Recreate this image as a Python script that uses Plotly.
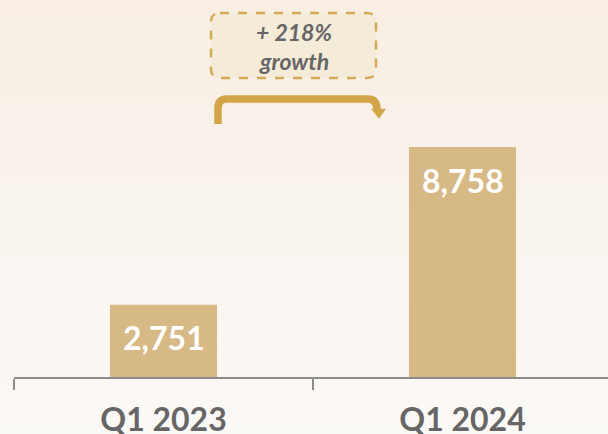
import base64
import plotly.graph_objects as go

categories = ["Q1 2023", "Q1 2024"]
values = [2751, 8758]
value_labels = ["2,751", "8,758"]
growth_text = ["+ 218%", "growth"]

W, H = 608, 434
L, R, T, B = 14, 0, 0, 57
pw, ph = W - L - R, H - T - B
band = 299  # px per category

def px(x):
    return (x - L) / pw

def py(y):
    return 1 - (y - T) / ph

bar_color = "#d6b985"
gold = "#d2a548"
grey = "#666666"

svg = f'''<svg xmlns="http://www.w3.org/2000/svg" width="{W}" height="{H}" preserveAspectRatio="none">
<defs><linearGradient id="g" x1="0" y1="0" x2="0" y2="1">
<stop offset="0" stop-color="#f8eee3"/><stop offset="0.5" stop-color="#f9f4ee"/><stop offset="1" stop-color="#fbf9f6"/>
</linearGradient></defs><rect width="{W}" height="{H}" fill="url(#g)"/></svg>'''
bg_src = "data:image/svg+xml;base64," + base64.b64encode(svg.encode()).decode()

fig = go.Figure(go.Bar(
    x=categories, y=values, marker=dict(color=bar_color, line=dict(width=0)),
    width=0.358, hoverinfo="skip",
))

# value labels inside bars
for c, v, t in zip(categories, values, value_labels):
    fig.add_annotation(x=c, y=v, text=t, showarrow=False, yanchor="middle", yshift=-33,
                       font=dict(family="Lato", size=32, color="white", weight="bold"))

# growth callout box (rounded, dashed)
x0, x1, y0, y1, r = 211, 376, 13, 78, 9
path = (f"M {px(x0+r)},{py(y0)} L {px(x1-r)},{py(y0)} Q {px(x1)},{py(y0)} {px(x1)},{py(y0+r)} "
        f"L {px(x1)},{py(y1-r)} Q {px(x1)},{py(y1)} {px(x1-r)},{py(y1)} "
        f"L {px(x0+r)},{py(y1)} Q {px(x0)},{py(y1)} {px(x0)},{py(y1-r)} "
        f"L {px(x0)},{py(y0+r)} Q {px(x0)},{py(y0)} {px(x0+r)},{py(y0)} Z")
fig.add_shape(type="path", path=path, xref="paper", yref="paper",
              fillcolor="#f5ebd9", line=dict(color="#d4aa55", width=2.5, dash="dash"))
for txt, yy in zip(growth_text, [32, 61]):
    fig.add_annotation(x=px(293.5), y=py(yy), xref="paper", yref="paper", text=txt,
                       xanchor="center", yanchor="middle", showarrow=False,
                       font=dict(family="Lato", size=23, color=grey, weight="bold", style="italic"))

# bent arrow
ax0, ay0, ay1, ax1, ay2, rr = 218, 124, 99, 377, 110, 9
apath = (f"M {px(ax0)},{py(ay0)} L {px(ax0)},{py(ay1+rr)} Q {px(ax0)},{py(ay1)} {px(ax0+rr)},{py(ay1)} "
         f"L {px(ax1-rr)},{py(ay1)} Q {px(ax1)},{py(ay1)} {px(ax1)},{py(ay2)}")
fig.add_shape(type="path", path=apath, xref="paper", yref="paper",
              line=dict(color=gold, width=7.5))
hpath = f"M {px(371.5)},{py(109)} L {px(385.5)},{py(109)} L {px(379)},{py(118.5)} Z"
fig.add_shape(type="path", path=hpath, xref="paper", yref="paper",
              fillcolor=gold, line=dict(color=gold, width=0.5))

ymax = 8758 / (377 - 147) * ph
fig.update_layout(
    width=W, height=H, margin=dict(l=L, r=R, t=T, b=B, pad=0),
    paper_bgcolor="#fbf9f6", plot_bgcolor="rgba(0,0,0,0)",
    showlegend=False,
    images=[dict(source=bg_src, xref="paper", yref="paper", x=px(0), y=py(0),
                 sizex=W / pw, sizey=H / ph, sizing="stretch", xanchor="left", yanchor="top",
                 layer="below")],
    xaxis=dict(type="category", range=[-0.5, -0.5 + pw / band], tickson="boundaries",
               ticks="outside", ticklen=11, tickwidth=2, tickcolor="#8c8c8c",
               showline=True, linecolor="#8c8c8c", linewidth=2, showgrid=False,
               tickfont=dict(family="Lato", size=32, color=grey, weight="bold"),
               ticklabelstandoff=14, fixedrange=True, automargin=False),
    yaxis=dict(visible=False, range=[0, ymax], showgrid=False, zeroline=False, fixedrange=True),
)

fig.write_html("out.html", config={"displayModeBar": False},
               post_script="document.body.style.margin='0';document.body.style.overflow='hidden';")
